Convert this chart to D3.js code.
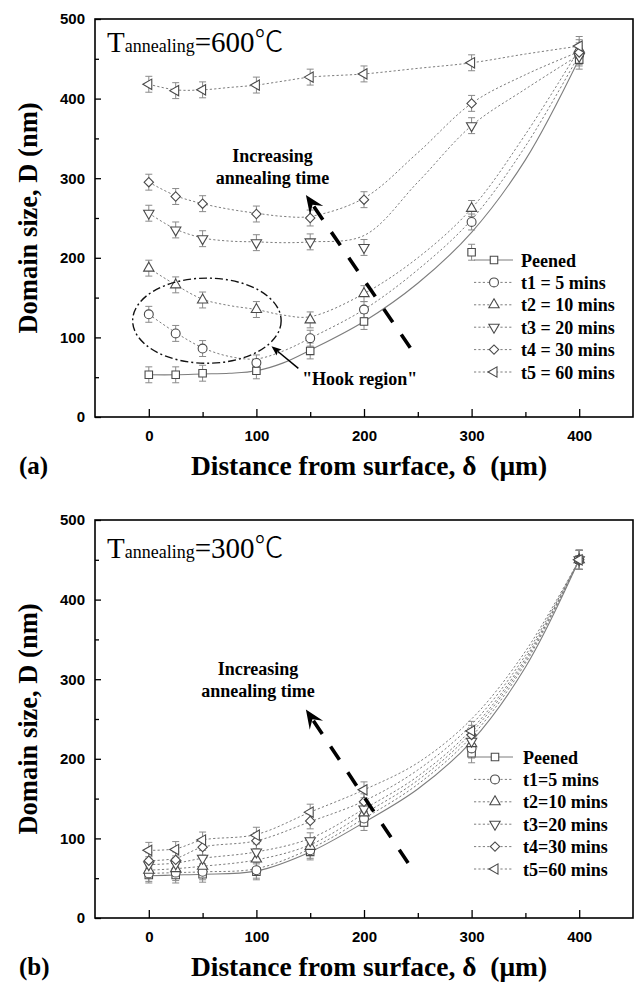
<!DOCTYPE html>
<html>
<head>
<meta charset="utf-8">
<script src="https://cdn.jsdelivr.net/npm/d3@7"></script>
<style>
  html, body { margin: 0; padding: 0; background: #fff; }
  svg { display: block; }
</style>
</head>
<body>
<svg id="chart" width="635" height="986"></svg>
<script>
// ---- Measurement grid -------------------------------------------------------
const depth = [0, 25, 50, 100, 150, 200, 300, 400];          // µm below surface
const xTicks = [0, 100, 200, 300, 400];
const xMinorTicks = [50, 150, 250, 350];
const yTicks = [0, 100, 200, 300, 400, 500];
const yMinorTicks = [50, 150, 250, 350, 450];

// ---- Panel (a): annealed at 600 °C -------------------------------------------
const labelsA = ["Peened", "t1 = 5 mins", "t2 = 10 mins", "t3 = 20 mins", "t4 = 30 mins", "t5 = 60 mins"];
const peenedA = [53, 53, 55, 58, 83, 120, 207, 449];
const t1A     = [129, 105, 86, 68, 99, 135, 245, 455];
const t2A     = [187, 166, 147, 135, 122, 155, 262, 462];
const t3A     = [256, 235, 224, 219, 220, 213, 366, 453];
const t4A     = [295, 277, 268, 255, 250, 273, 394, 458];
const t5A     = [418, 410, 411, 417, 427, 431, 445, 466];
const errA    = [10, 10, 10, 10, 10, 10, 10, 12];

// smoothed trend lines for panel (a)
const fitXA      = [0, 25, 50, 75, 100, 125, 150, 200, 250, 300, 350, 400];
const peenedFitA = [53, 53, 54, 55, 58, 68, 84, 120, 168, 232, 323, 450];
const t1FitA     = [129, 106, 87, 76, 73, 83, 99, 135, 185, 248, 340, 455];
const t2FitA     = [187, 166, 148, 140, 135, 128, 126, 155, 200, 262, 355, 462];
const t3FitA     = [256, 236, 225, 221, 220, 219, 220, 228, 295, 366, 412, 455];
const t4FitA     = [295, 278, 268, 261, 256, 252, 252, 275, 332, 394, 430, 459];
const t5FitA     = [418, 411, 411, 414, 417, 422, 427, 431, 438, 445, 456, 466];

// ---- Panel (b): annealed at 300 °C -------------------------------------------
const labelsB = ["Peened", "t1=5 mins", "t2=10 mins", "t3=20 mins", "t4=30 mins", "t5=60 mins"];
const peenedB = [54, 54, 55, 58, 83, 120, 207, 450];
const t1B     = [56, 57, 58, 60, 85, 125, 213, 450];
const t2B     = [60, 62, 65, 74, 90, 132, 219, 450];
const t3B     = [67, 68, 75, 83, 97, 137, 222, 450];
const t4B     = [72, 73, 89, 97, 122, 146, 230, 450];
const t5B     = [85, 86, 98, 104, 133, 161, 235, 450];
const errB    = [10, 10, 10, 10, 10, 10, 12, 12];

// smoothed trend lines for panel (b)
const fitXB      = [0, 25, 50, 100, 150, 200, 250, 300, 350, 400];
const peenedFitB = [53, 54, 55, 59, 83, 120, 162, 222, 315, 450];
const t1FitB     = [56, 57, 58, 62, 87, 125, 168, 228, 320, 450];
const t2FitB     = [60, 62, 65, 73, 92, 131, 173, 233, 323, 450];
const t3FitB     = [67, 69, 75, 83, 100, 137, 178, 237, 326, 450];
const t4FitB     = [72, 75, 89, 97, 121, 147, 186, 243, 330, 450];
const t5FitB     = [85, 87, 98, 105, 133, 161, 195, 250, 335, 450];

// ---- Shared styling ------------------------------------------------------------
const SERIF = "'Liberation Serif', 'Times New Roman', serif";
const SANS = "'Liberation Sans', Arial, sans-serif";
const LINE_COLOR = "#7d7d7d";
const MARK_COLOR = "#4a4a4a";
const ERR_COLOR = "#8a8a8a";

const svg = d3.select("#chart");
const x = d3.scaleLinear().domain([-50, 450]).range([95, 633]);

// marker shapes: square, circle, triangle up, triangle down, diamond, triangle left
const shapes = [
  { type: d3.symbolSquare,   size: 56, rot: 0 },
  { type: d3.symbolCircle,   size: 62, rot: 0 },
  { type: d3.symbolTriangle, size: 46, rot: 0 },
  { type: d3.symbolTriangle, size: 46, rot: 180 },
  { type: d3.symbolSquare,   size: 44, rot: 45 },
  { type: d3.symbolTriangle, size: 46, rot: -90 }
];

function drawArrow(g, x1, y1, x2, y2, o) {
  const dx = x2 - x1, dy = y2 - y1, len = Math.hypot(dx, dy);
  const ux = dx / len, uy = dy / len, nx = -uy, ny = ux;
  const back = o.headLen * o.notch;
  g.append("line")
    .attr("x1", x1).attr("y1", y1)
    .attr("x2", x2 - ux * back).attr("y2", y2 - uy * back)
    .attr("stroke", "#000").attr("stroke-width", o.width)
    .attr("stroke-dasharray", o.dash || null);
  const p = (a, b) => [x2 + ux * a + nx * b, y2 + uy * a + ny * b];
  const pts = [p(0, 0), p(-o.headLen, o.headW), p(-back, 0), p(-o.headLen, -o.headW)];
  g.append("path").attr("d", "M" + pts.map(q => q.join(",")).join("L") + "Z").attr("fill", "#000");
}

function drawPanel(cfg) {
  const off = cfg.offset;
  const y = d3.scaleLinear().domain([0, 500]).range([417 + off, 19 + off]);
  const g = svg.append("g");

  // axes with inward ticks
  g.append("g").attr("transform", `translate(0,${417 + off})`)
    .call(d3.axisBottom(x).tickValues(xTicks).tickSizeInner(-8).tickSizeOuter(0).tickPadding(13));
  g.append("g").attr("transform", `translate(0,${417 + off})`)
    .call(d3.axisBottom(x).tickValues(xMinorTicks).tickSizeInner(-5).tickSizeOuter(0).tickFormat(""));
  g.append("g").attr("transform", "translate(95,0)")
    .call(d3.axisLeft(y).tickValues(yTicks).tickSizeInner(-6).tickSizeOuter(0).tickPadding(10));
  g.append("g").attr("transform", "translate(95,0)")
    .call(d3.axisLeft(y).tickValues(yMinorTicks).tickSizeInner(-4).tickSizeOuter(0).tickFormat(""));
  g.selectAll(".domain").remove();
  g.selectAll(".tick line").attr("stroke", "#000").attr("stroke-width", 1.3);
  g.selectAll(".tick text").attr("font-family", SANS).attr("font-weight", "bold")
    .attr("font-size", 15).attr("fill", "#000");

  // frame
  g.append("rect").attr("x", 95).attr("y", 19 + off).attr("width", 538).attr("height", 398)
    .attr("fill", "none").attr("stroke", "#000").attr("stroke-width", 1.6);

  // trend lines
  const line = d3.line().x(d => x(d[0])).y(d => y(d[1])).curve(d3.curveCatmullRom.alpha(0.5));
  cfg.series.forEach((s, i) => {
    g.append("path").datum(cfg.fitX.map((v, k) => [v, s.fit[k]]))
      .attr("d", line).attr("fill", "none").attr("stroke", LINE_COLOR)
      .attr("stroke-width", i === 0 ? 1.1 : 1)
      .attr("stroke-dasharray", i === 0 ? null : "2.2,2.2");
  });

  // error bars
  cfg.series.forEach(s => {
    const eg = g.append("g").attr("stroke", ERR_COLOR).attr("stroke-width", 1);
    depth.forEach((d, k) => {
      const cx = x(d), lo = y(s.vals[k] - cfg.err[k]), hi = y(s.vals[k] + cfg.err[k]);
      eg.append("line").attr("x1", cx).attr("x2", cx).attr("y1", lo).attr("y2", hi);
      eg.append("line").attr("x1", cx - 3.5).attr("x2", cx + 3.5).attr("y1", lo).attr("y2", lo);
      eg.append("line").attr("x1", cx - 3.5).attr("x2", cx + 3.5).attr("y1", hi).attr("y2", hi);
    });
  });

  // markers
  cfg.series.forEach((s, i) => {
    const sh = shapes[i];
    const sym = d3.symbol().type(sh.type).size(sh.size);
    g.append("g").selectAll("path").data(depth.map((d, k) => [d, s.vals[k]])).join("path")
      .attr("d", sym)
      .attr("transform", d => `translate(${x(d[0])},${y(d[1])}) rotate(${sh.rot})`)
      .attr("fill", "#fff").attr("stroke", MARK_COLOR).attr("stroke-width", 1.1);
  });

  // legend
  const lg = g.append("g");
  cfg.series.forEach((s, i) => {
    const cy = cfg.legendTop + off + i * 22.4;
    lg.append("line").attr("x1", 474).attr("x2", 513).attr("y1", cy).attr("y2", cy)
      .attr("stroke", LINE_COLOR).attr("stroke-width", 1)
      .attr("stroke-dasharray", i === 0 ? null : "2.2,2.2");
    const sh = shapes[i];
    lg.append("path").attr("d", d3.symbol().type(sh.type).size(sh.size)())
      .attr("transform", `translate(${cfg.legendSym},${cy}) rotate(${sh.rot})`)
      .attr("fill", "#fff").attr("stroke", MARK_COLOR).attr("stroke-width", 1.1);
    lg.append("text").attr("x", cfg.legendText).attr("y", cy + 6.5)
      .attr("font-family", SERIF).attr("font-weight", "bold").attr("font-size", 18)
      .text(s.name);
  });

  // temperature label
  const t = g.append("text").attr("x", 107).attr("y", cfg.titleY + off)
    .attr("font-family", SERIF + ", 'Noto Sans CJK SC'").attr("font-size", 29).attr("fill", "#000");
  t.append("tspan").text("T");
  t.append("tspan").attr("font-size", 18).text("annealing");
  t.append("tspan").text("=" + cfg.temp);
  t.append("tspan").attr("font-family", "'Noto Sans CJK SC', 'DejaVu Serif', serif").attr("font-weight", 300).text("\u2103");

  // "Increasing annealing time" note and dashed arrow
  const nt = g.append("text").attr("font-family", SERIF).attr("font-weight", "bold")
    .attr("font-size", 18).attr("text-anchor", "middle");
  nt.append("tspan").attr("x", x(cfg.note[0])).attr("y", y(cfg.note[1])).text("Increasing");
  nt.append("tspan").attr("x", x(cfg.note[0])).attr("y", y(cfg.note[2])).text("annealing time");
  drawArrow(g, x(cfg.arrow[0]), y(cfg.arrow[1]), x(cfg.arrow[2]), y(cfg.arrow[3]),
    { width: 3.6, dash: "16,15", headLen: 19, headW: 8, notch: 0.62 });

  if (cfg.hook) {
    const h = cfg.hook;
    g.append("ellipse").attr("cx", x(h.cx)).attr("cy", y(h.cy))
      .attr("rx", x(h.cx + h.rx) - x(h.cx)).attr("ry", y(h.cy) - y(h.cy + h.ry))
      .attr("fill", "none").attr("stroke", "#111").attr("stroke-width", 1.4)
      .attr("stroke-dasharray", "8,3,2,3");
    drawArrow(g, x(h.arrow[0]), y(h.arrow[1]), x(h.arrow[2]), y(h.arrow[3]),
      { width: 1.5, headLen: 10, headW: 4, notch: 0.8 });
    g.append("text").attr("x", x(h.text[0])).attr("y", y(h.text[1]))
      .attr("font-family", SERIF).attr("font-weight", "bold").attr("font-size", 18)
      .text("\"Hook region\"");
  }

  // axis titles and panel tag
  g.append("text").attr("x", 369).attr("y", 475 + off).attr("text-anchor", "middle")
    .attr("font-family", SERIF).attr("font-weight", "bold").attr("font-size", 27.5)
    .text("Distance from surface, \u03b4\u00a0 (\u03bcm)");
  g.append("text").attr("transform", `translate(37,${218 + off}) rotate(-90)`)
    .attr("text-anchor", "middle")
    .attr("font-family", SERIF).attr("font-weight", "bold").attr("font-size", 26.5)
    .text("Domain size, D (nm)");
  g.append("text").attr("x", 19).attr("y", 474 + off)
    .attr("font-family", SERIF).attr("font-weight", "bold").attr("font-size", 25)
    .text(cfg.tag);
}

drawPanel({
  offset: 0, tag: "(a)", temp: "600", titleY: 52,
  series: [
    { name: labelsA[0], vals: peenedA, fit: peenedFitA },
    { name: labelsA[1], vals: t1A, fit: t1FitA },
    { name: labelsA[2], vals: t2A, fit: t2FitA },
    { name: labelsA[3], vals: t3A, fit: t3FitA },
    { name: labelsA[4], vals: t4A, fit: t4FitA },
    { name: labelsA[5], vals: t5A, fit: t5FitA }
  ],
  fitX: fitXA, err: errA,
  legendTop: 260, legendSym: 494, legendText: 521,
  note: [115, 320, 293],
  arrow: [243, 87, 146, 279],
  hook: { cx: 54, cy: 121, rx: 69, ry: 53.5, arrow: [139, 61, 114, 89], text: [142.5, 40] }
});

drawPanel({
  offset: 501, tag: "(b)", temp: "300", titleY: 57,
  series: [
    { name: labelsB[0], vals: peenedB, fit: peenedFitB },
    { name: labelsB[1], vals: t1B, fit: t1FitB },
    { name: labelsB[2], vals: t2B, fit: t2FitB },
    { name: labelsB[3], vals: t3B, fit: t3FitB },
    { name: labelsB[4], vals: t4B, fit: t4FitB },
    { name: labelsB[5], vals: t5B, fit: t5FitB }
  ],
  fitX: fitXB, err: errB,
  legendTop: 256, legendSym: 495, legendText: 523,
  note: [101.5, 305, 278],
  arrow: [241, 69, 146, 262],
  hook: null
});
</script>
</body>
</html>
